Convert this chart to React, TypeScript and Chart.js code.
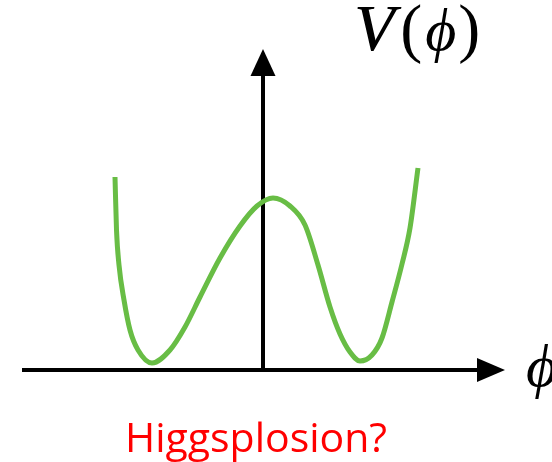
import React, { useEffect, useRef } from "react";
import { Chart, registerables } from "chart.js";

Chart.register(...registerables);

// Field values φ (arbitrary units) and the potential V(φ) sampled along the double-well curve.
const phiValues = [
  -1.48, -1.465, -1.44, -1.39, -1.33, -1.25, -1.11, -0.93, -0.78, -0.63, -0.43, -0.23, -0.06,
  0.1, 0.27, 0.42, 0.55, 0.67, 0.77, 0.87, 0.97, 1.09, 1.19, 1.29, 1.39, 1.47, 1.55,
];
const potentialValues = [
  1.93, 1.4, 1.05, 0.7, 0.4, 0.2, 0.07, 0.2, 0.43, 0.73, 1.12, 1.44, 1.64,
  1.72, 1.64, 1.45, 1.05, 0.63, 0.36, 0.18, 0.09, 0.15, 0.32, 0.68, 1.06, 1.42, 2.02,
];

// Axis extents (data units) for the drawn arrows.
const xAxisStart = -2.41;
const xAxisEnd = 2.42;
const yAxisEnd = 3.21;

const xAxisLabel = "ϕ";
const caption = "Higgsplosion?";

const curveColor = "#68bd45";

const axesPlugin = {
  id: "potentialAxes",
  beforeDatasetsDraw(chart: any) {
    const { ctx, scales } = chart;
    const x = scales.x;
    const y = scales.y;
    const x0 = x.getPixelForValue(0);
    const y0 = y.getPixelForValue(0);
    const xStart = x.getPixelForValue(xAxisStart);
    const xEnd = x.getPixelForValue(xAxisEnd);
    const yEnd = y.getPixelForValue(yAxisEnd);
    ctx.save();
    ctx.strokeStyle = "#000";
    ctx.fillStyle = "#000";
    ctx.lineWidth = 4;
    ctx.lineCap = "butt";
    // horizontal axis
    ctx.beginPath();
    ctx.moveTo(xStart, y0);
    ctx.lineTo(xEnd - 26, y0);
    ctx.stroke();
    ctx.beginPath();
    ctx.moveTo(xEnd, y0);
    ctx.lineTo(xEnd - 28, y0 - 12);
    ctx.lineTo(xEnd - 28, y0 + 12);
    ctx.closePath();
    ctx.fill();
    // vertical axis
    ctx.beginPath();
    ctx.moveTo(x0, y0 + 2);
    ctx.lineTo(x0, yEnd + 24);
    ctx.stroke();
    ctx.beginPath();
    ctx.moveTo(x0, yEnd);
    ctx.lineTo(x0 - 12.5, yEnd + 27);
    ctx.lineTo(x0 + 12.5, yEnd + 27);
    ctx.closePath();
    ctx.fill();

    // axis labels: V(ϕ) with italic letters and upright brackets
    ctx.textBaseline = "alphabetic";
    ctx.textAlign = "left";
    const serif = "'Liberation Serif', 'DejaVu Serif', serif";
    let tx = 354;
    const ty = 50;
    const parts: [string, string, number][] = [
      ["V", `italic 66px ${serif}`, 6],
      ["(", `66px ${serif}`, 3],
      ["ϕ", `italic 60px ${serif}`, 2],
      [")", `66px ${serif}`, 0],
    ];
    for (const [t, f, gap] of parts) {
      ctx.font = f;
      ctx.fillText(t, tx, ty);
      // a second pass thickens the V like a bold math glyph
      if (t === "V") ctx.fillText(t, tx + 0.8, ty);
      tx += ctx.measureText(t).width + gap;
    }
    ctx.font = `italic 60px ${serif}`;
    ctx.fillText(xAxisLabel, 526, 386);

    // caption
    ctx.fillStyle = "#ff0000";
    ctx.textAlign = "center";
    ctx.font = "41px 'Open Sans', sans-serif";
    ctx.fillText(caption, 256, 452);
    ctx.restore();
  },
};

export default function App() {
  const canvasRef = useRef<HTMLCanvasElement | null>(null);

  useEffect(() => {
    const canvas = canvasRef.current;
    if (!canvas) return;
    const chart = new Chart(canvas, {
      type: "line",
      data: {
        datasets: [
          {
            data: phiValues.map((p, i) => ({ x: p, y: potentialValues[i] })),
            borderColor: curveColor,
            borderWidth: 5,
            pointRadius: 0,
            cubicInterpolationMode: "monotone",
            fill: false,
          },
        ],
      },
      options: {
        responsive: false,
        animation: false,
        layout: { padding: 0 },
        plugins: {
          legend: { display: false },
          tooltip: { enabled: false },
        },
        scales: {
          x: { type: "linear", min: -2.63, max: 2.89, display: false },
          y: { type: "linear", min: -0.92, max: 3.7, display: false },
        },
      },
      plugins: [axesPlugin],
    });
    return () => chart.destroy();
  }, []);

  return (
    <div style={{ position: "fixed", left: 0, top: 0, width: 552, height: 462, background: "#fff" }}>
      <canvas ref={canvasRef} width={552} height={462} style={{ display: "block" }} />
    </div>
  );
}
